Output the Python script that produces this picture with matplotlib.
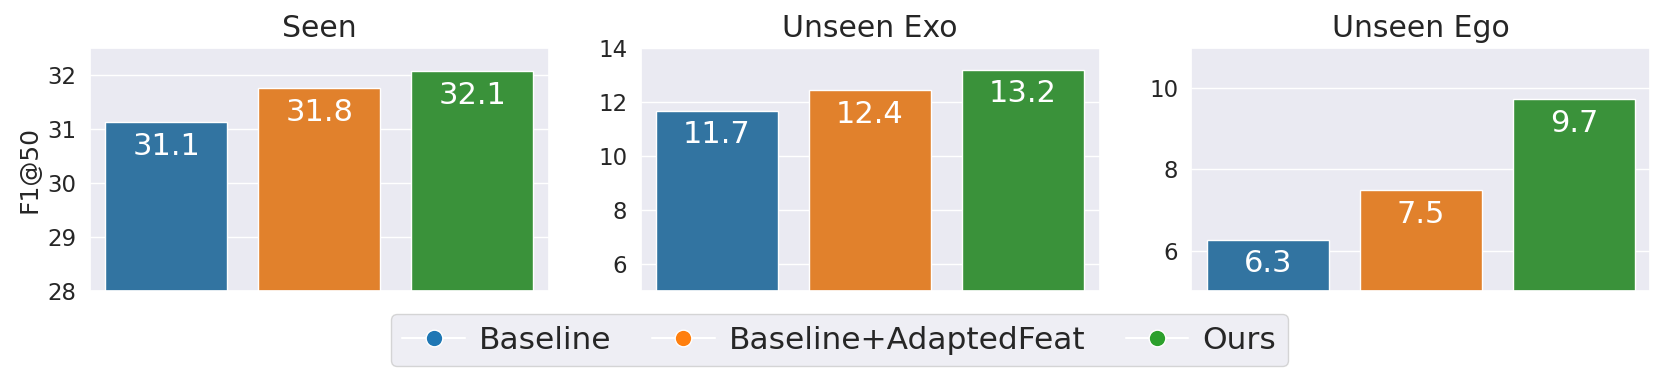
import matplotlib
matplotlib.use("Agg")
import matplotlib.pyplot as plt
from matplotlib.lines import Line2D
import seaborn as sns

sns.set_theme(style="darkgrid")
plt.rcParams['font.family'] = ['DejaVu Sans']

# data
methods = ["Baseline", "Baseline+AdaptedFeat", "Ours"]
panels = ["Seen", "Unseen Exo", "Unseen Ego"]
seen = [31.12, 31.76, 32.07]
unseen_exo = [11.68, 12.44, 13.19]
unseen_ego = [6.27, 7.49, 9.73]
ylims = [(28, 32.5), (5, 14), (5, 11)]
yticks = [[28, 29, 30, 31, 32], [6, 8, 10, 12, 14], [6, 8, 10]]

bar_colors = sns.color_palette("tab10", 3, desat=0.75)
marker_colors = sns.color_palette("tab10", 3)

fig, axes = plt.subplots(1, 3, figsize=(16.62, 3.8), dpi=100)
fig.subplots_adjust(left=0.054, right=0.993, top=0.874, bottom=0.234, wspace=0.2)

for ax, title, vals, yl, yt in zip(axes, panels, [seen, unseen_exo, unseen_ego], ylims, yticks):
    x = range(len(methods))
    bars = ax.bar(x, vals, width=0.8, color=bar_colors, edgecolor="white", linewidth=1)
    for b, v in zip(bars, vals):
        ax.annotate(f"{v:.1f}", (b.get_x() + b.get_width() / 2, v),
                    xytext=(0, -7), textcoords="offset points",
                    ha="center", va="top", color="white", fontsize=22)
    ax.set_xlim(-0.5, 2.5)
    ax.set_ylim(*yl)
    ax.set_yticks(yt)
    ax.set_xticks([])
    ax.tick_params(axis="y", labelsize=16.5)
    ax.set_title(title, fontsize=21.5, pad=8)

axes[0].set_ylabel("F1@50", fontsize=18)

handles = [Line2D([0], [0], color="white", linewidth=1.5, marker="o", markersize=12,
                  markerfacecolor=c, markeredgecolor="white", markeredgewidth=1)
           for c in marker_colors]
fig.legend(handles, methods, loc="lower center", bbox_to_anchor=(0.505, 0.036),
           ncol=3, fontsize=22.5, frameon=True, handlelength=2, columnspacing=1.3,
           borderpad=0.37, handletextpad=0.45, borderaxespad=0)

fig.savefig("out.png", dpi=100)
